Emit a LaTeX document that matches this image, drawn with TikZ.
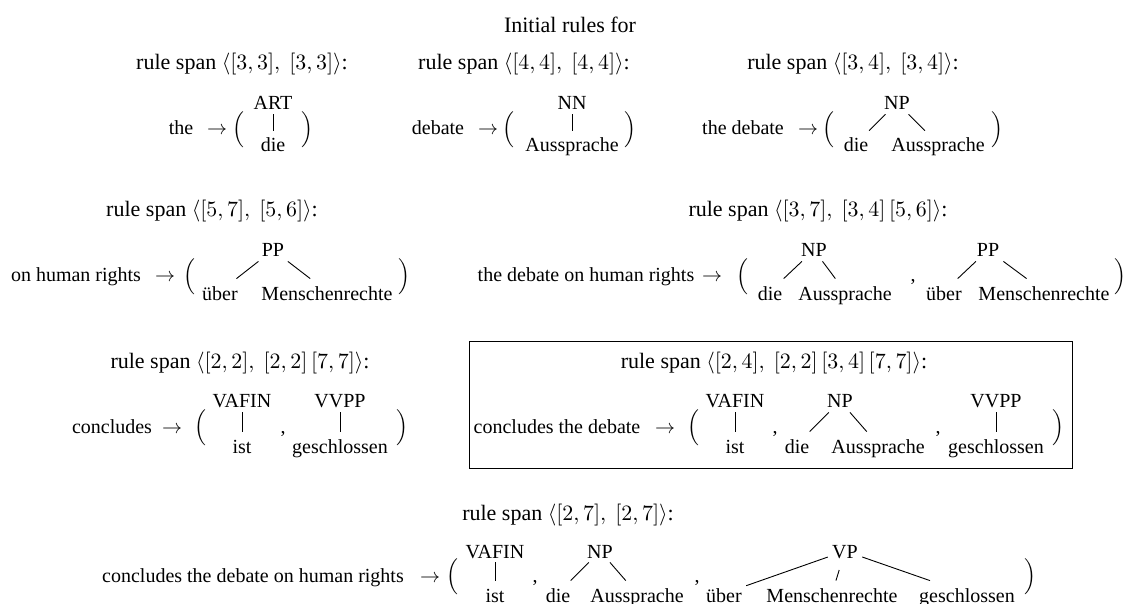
\documentclass[tikz,border=0pt]{standalone}
\usepackage[no-math]{fontspec}
\setmainfont{Liberation Serif}
\tikzset{
  txt/.style={inner sep=0pt, anchor=base},
  head/.style={inner sep=0pt, anchor=base, font=\fontsize{11}{13}\selectfont},
  cat/.style={inner sep=2pt, text height=7pt, text depth=0pt, anchor=base},
  leaf/.style={inner sep=2pt, text height=8.5pt, text depth=0pt, anchor=base},
  edge/.style={line width=0.45pt},
  framebox/.style={draw, line width=0.5pt}
}
\newcommand{\lp}{$\Big($}
\newcommand{\rp}{$\Big)$}
\newcommand{\ar}{$\rightarrow$}
\begin{document}
\begin{tikzpicture}[x=0.5pt,y=-0.5pt]
\useasboundingbox (0,0) rectangle (1130,604);
\node[head] (title) at (570,33) {Initial rules for};
% ---------- row 1
\node[head] (h1) at (242,70) {rule span $\langle[3,3],\ [3,3]\rangle$:};
\node[head] (h2) at (524,70) {rule span $\langle[4,4],\ [4,4]\rangle$:};
\node[head] (h3) at (853,70) {rule span $\langle[3,4],\ [3,4]\rangle$:};
% R1
\node[txt] (l1) at (181,135) {the};
\node[txt] (a1) at (217,135) {\ar};
\node[txt] (o1) at (238,135) {\lp};
\node[cat] (p1) at (273,110) {ART};
\node[leaf] (k1) at (273,152) {die};
\node[txt] (c1) at (307,135) {\rp};
\draw[edge] (p1) -- (k1);
% R2
\node[txt] (l2) at (438,135) {debate};
\node[txt] (a2) at (488,135) {\ar};
\node[txt] (o2) at (508,135) {\lp};
\node[cat] (p2) at (572,110) {NN};
\node[leaf] (k2) at (572,152) {Aussprache};
\node[txt] (c2) at (630,135) {\rp};
\draw[edge] (p2) -- (k2);
% R3
\node[txt] (l3) at (743,135) {the debate};
\node[txt] (a3) at (808,135) {\ar};
\node[txt] (o3) at (828,135) {\lp};
\node[cat] (p3) at (897,110) {NP};
\node[leaf] (k3a) at (856,152) {die};
\node[leaf] (k3b) at (938,152) {Aussprache};
\node[txt] (c3) at (997,135) {\rp};
\draw[edge] (p3) -- (k3a);
\draw[edge] (p3) -- (k3b);
% ---------- row 2
\node[head] (h4) at (212,217) {rule span $\langle[5,7],\ [5,6]\rangle$:};
\node[head] (h5) at (818,217) {rule span $\langle[3,7],\ [3,4]\,[5,6]\rangle$:};
% R4
\node[txt] (l4) at (76,282) {on human rights};
\node[txt] (a4) at (165,282) {\ar};
\node[txt] (o4) at (189,282) {\lp};
\node[cat] (p4) at (273,257) {PP};
\node[leaf] (k4a) at (220,300) {über};
\node[leaf] (k4b) at (327,300) {Menschenrechte};
\node[txt] (c4) at (404,282) {\rp};
\draw[edge] (p4) -- (k4a);
\draw[edge] (p4) -- (k4b);
% R5
\node[txt] (l5) at (586,282) {the debate on human rights};
\node[txt] (a5) at (712,282) {\ar};
\node[txt] (o5) at (742,282) {\lp};
\node[cat] (p5a) at (814,257) {NP};
\node[leaf] (k5a) at (770,300) {die};
\node[leaf] (k5b) at (845,300) {Aussprache};
\node[txt] (m5) at (913,282) {,};
\node[cat] (p5b) at (988,257) {PP};
\node[leaf] (k5c) at (944,300) {über};
\node[leaf] (k5d) at (1044,300) {Menschenrechte};
\node[txt] (c5) at (1120,282) {\rp};
\draw[edge] (p5a) -- (k5a);
\draw[edge] (p5a) -- (k5b);
\draw[edge] (p5b) -- (k5c);
\draw[edge] (p5b) -- (k5d);
% ---------- row 3
\node[head] (h6) at (240,368) {rule span $\langle[2,2],\ [2,2]\,[7,7]\rangle$:};
% R6
\node[txt] (l6) at (112,433) {concludes};
\node[txt] (a6) at (172,433) {\ar};
\node[txt] (o6) at (200,433) {\lp};
\node[cat] (p6a) at (242,408) {VAFIN};
\node[leaf] (k6a) at (242,453) {ist};
\node[txt] (m6) at (283,433) {,};
\node[cat] (p6b) at (340,408) {VVPP};
\node[leaf] (k6b) at (340,453) {geschlossen};
\node[txt] (c6) at (402,433) {\rp};
\draw[edge] (p6a) -- (k6a);
\draw[edge] (p6b) -- (k6b);
% boxed R7
\node[framebox, minimum width=301.5pt, minimum height=63pt, inner sep=0pt] (box) at (770.5,405) {};
\node[head] (h7) at (774,368) {rule span $\langle[2,4],\ [2,2]\,[3,4]\,[7,7]\rangle$:};
\node[txt] (l7) at (557,433) {concludes the debate};
\node[txt] (a7) at (665,433) {\ar};
\node[txt] (o7) at (693,433) {\lp};
\node[cat] (p7a) at (735,408) {VAFIN};
\node[leaf] (k7a) at (735,453) {ist};
\node[txt] (m7a) at (775,433) {,};
\node[cat] (p7b) at (840,408) {NP};
\node[leaf] (k7b) at (797,453) {die};
\node[leaf] (k7c) at (878,453) {Aussprache};
\node[txt] (m7b) at (938,433) {,};
\node[cat] (p7c) at (996,408) {VVPP};
\node[leaf] (k7d) at (996,453) {geschlossen};
\node[txt] (c7) at (1058,433) {\rp};
\draw[edge] (p7a) -- (k7a);
\draw[edge] (p7b) -- (k7b);
\draw[edge] (p7b) -- (k7c);
\draw[edge] (p7c) -- (k7d);
% ---------- row 4
\node[head] (h8) at (568,520) {rule span $\langle[2,7],\ [2,7]\rangle$:};
\node[txt] (l8) at (253,582) {concludes the debate on human rights};
\node[txt] (a8) at (430,582) {\ar};
\node[txt] (o8) at (452,582) {\lp};
\node[cat] (p8a) at (495,558) {VAFIN};
\node[leaf] (k8a) at (495,602) {ist};
\node[txt] (m8a) at (535,582) {,};
\node[cat] (p8b) at (600,558) {NP};
\node[leaf] (k8b) at (558,602) {die};
\node[leaf] (k8c) at (637,602) {Aussprache};
\node[txt] (m8b) at (697,582) {,};
\node[cat] (p8c) at (845,558) {VP};
\node[leaf] (k8d) at (724,602) {über};
\node[leaf] (k8e) at (832,602) {Menschenrechte};
\node[leaf] (k8f) at (967,602) {geschlossen};
\node[txt] (c8) at (1030,582) {\rp};
\draw[edge] (p8a) -- (k8a);
\draw[edge] (p8b) -- (k8b);
\draw[edge] (p8b) -- (k8c);
\draw[edge] (p8c) -- (k8d);
\draw[edge, shorten <=4pt] (p8c) -- (k8e);
\draw[edge] (p8c) -- (k8f);
\end{tikzpicture}
\end{document}
